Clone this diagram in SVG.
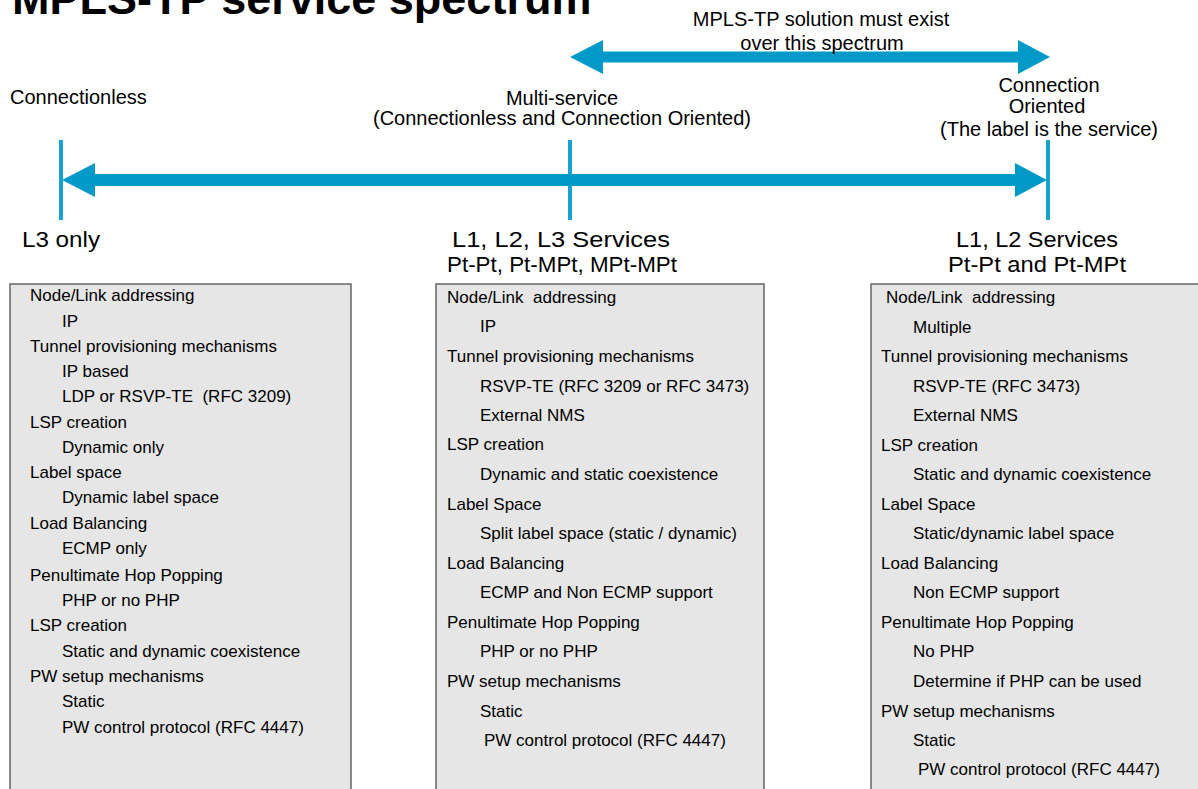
<svg xmlns="http://www.w3.org/2000/svg" width="1198" height="789" viewBox="0 0 1198 789">
<style>
text{font-family:"Liberation Sans",Arial,sans-serif;fill:#000;white-space:pre}
.title{font-size:45px;font-weight:bold}
.hdr{font-size:20px;text-anchor:middle}
.lbl{font-size:22px;text-anchor:middle}
.bx{font-size:17px}
.box{fill:#e6e6e6;stroke:#666;stroke-width:1.5}
.tick{stroke:#16a2d4;stroke-width:4}
.arr{fill:#0099c8}
</style>
<rect width="1198" height="789" fill="#fff"/>
<text class="title" x="12" y="14">MPLS-TP service spectrum</text>

<g id="connectors">
  <line class="tick" x1="61" y1="140" x2="61" y2="220"/>
  <line class="tick" x1="570" y1="140" x2="570" y2="220"/>
  <line class="tick" x1="1048" y1="140" x2="1048" y2="220"/>
  <polygon class="arr" points="62,180 95,163 95,174 1015,174 1015,163 1047,180 1015,197 1015,186 95,186 95,197"/>
  <polygon class="arr" points="570,57 603,40 603,51.5 1018,51.5 1018,40 1050,57 1018,74 1018,62.5 603,62.5 603,74"/>
</g>

<g id="spectrum-label">
  <text class="hdr" x="821" y="26">MPLS-TP solution must exist</text>
  <text class="hdr" x="822" y="50">over this spectrum</text>
</g>

<g id="connectionless">
  <text class="hdr" x="10" y="104" style="text-anchor:start">Connectionless</text>
  <text class="lbl" x="22" y="247" style="text-anchor:start" textLength="78" lengthAdjust="spacingAndGlyphs">L3 only</text>
</g>

<g id="multi-service">
  <text class="hdr" x="562" y="105">Multi-service</text>
  <text class="hdr" x="562" y="125">(Connectionless and Connection Oriented)</text>
  <text class="lbl" x="561" y="247" textLength="218" lengthAdjust="spacingAndGlyphs">L1, L2, L3 Services</text>
  <text class="lbl" x="562" y="272" textLength="230" lengthAdjust="spacingAndGlyphs">Pt-Pt, Pt-MPt, MPt-MPt</text>
</g>

<g id="connection-oriented">
  <text class="hdr" x="1049" y="92">Connection</text>
  <text class="hdr" x="1047" y="113">Oriented</text>
  <text class="hdr" x="1049" y="136">(The label is the service)</text>
  <text class="lbl" x="1037" y="247" textLength="162" lengthAdjust="spacingAndGlyphs">L1, L2 Services</text>
  <text class="lbl" x="1037" y="272" textLength="178" lengthAdjust="spacingAndGlyphs">Pt-Pt and Pt-MPt</text>
</g>

<g id="box-l3">
  <rect class="box" x="10" y="284" width="341" height="520"/>
  <text class="bx" x="30" y="301">Node/Link addressing</text>
  <text class="bx" x="62" y="327">IP</text>
  <text class="bx" x="30" y="352">Tunnel provisioning mechanisms</text>
  <text class="bx" x="62" y="377">IP based</text>
  <text class="bx" x="62" y="402">LDP or RSVP-TE  (RFC 3209)</text>
  <text class="bx" x="30" y="428">LSP creation</text>
  <text class="bx" x="62" y="453">Dynamic only</text>
  <text class="bx" x="30" y="478">Label space</text>
  <text class="bx" x="62" y="503">Dynamic label space</text>
  <text class="bx" x="30" y="529">Load Balancing</text>
  <text class="bx" x="62" y="554">ECMP only</text>
  <text class="bx" x="30" y="581">Penultimate Hop Popping</text>
  <text class="bx" x="62" y="606">PHP or no PHP</text>
  <text class="bx" x="30" y="631">LSP creation</text>
  <text class="bx" x="62" y="657">Static and dynamic coexistence</text>
  <text class="bx" x="30" y="682">PW setup mechanisms</text>
  <text class="bx" x="62" y="707">Static</text>
  <text class="bx" x="62" y="733">PW control protocol (RFC 4447)</text>
</g>

<g id="box-multi">
  <rect class="box" x="436" y="284" width="328" height="520"/>
  <text class="bx" x="447" y="303">Node/Link  addressing</text>
  <text class="bx" x="480" y="332">IP</text>
  <text class="bx" x="447" y="362">Tunnel provisioning mechanisms</text>
  <text class="bx" x="480" y="392">RSVP-TE (RFC 3209 or RFC 3473)</text>
  <text class="bx" x="480" y="421">External NMS</text>
  <text class="bx" x="447" y="450">LSP creation</text>
  <text class="bx" x="480" y="480">Dynamic and static coexistence</text>
  <text class="bx" x="447" y="510">Label Space</text>
  <text class="bx" x="480" y="539">Split label space (static / dynamic)</text>
  <text class="bx" x="447" y="569">Load Balancing</text>
  <text class="bx" x="480" y="598">ECMP and Non ECMP support</text>
  <text class="bx" x="447" y="628">Penultimate Hop Popping</text>
  <text class="bx" x="480" y="657">PHP or no PHP</text>
  <text class="bx" x="447" y="687">PW setup mechanisms</text>
  <text class="bx" x="480" y="717">Static</text>
  <text class="bx" x="484" y="746">PW control protocol (RFC 4447)</text>
</g>

<g id="box-co">
  <rect class="box" x="871" y="284" width="340" height="520"/>
  <text class="bx" x="886" y="303">Node/Link  addressing</text>
  <text class="bx" x="913" y="333">Multiple</text>
  <text class="bx" x="881" y="362">Tunnel provisioning mechanisms</text>
  <text class="bx" x="913" y="392">RSVP-TE (RFC 3473)</text>
  <text class="bx" x="913" y="421">External NMS</text>
  <text class="bx" x="881" y="451">LSP creation</text>
  <text class="bx" x="913" y="480">Static and dynamic coexistence</text>
  <text class="bx" x="881" y="510">Label Space</text>
  <text class="bx" x="913" y="539">Static/dynamic label space</text>
  <text class="bx" x="881" y="569">Load Balancing</text>
  <text class="bx" x="913" y="598">Non ECMP support</text>
  <text class="bx" x="881" y="628">Penultimate Hop Popping</text>
  <text class="bx" x="913" y="657">No PHP</text>
  <text class="bx" x="913" y="687">Determine if PHP can be used</text>
  <text class="bx" x="881" y="717">PW setup mechanisms</text>
  <text class="bx" x="913" y="746">Static</text>
  <text class="bx" x="918" y="775">PW control protocol (RFC 4447)</text>
</g>
</svg>
